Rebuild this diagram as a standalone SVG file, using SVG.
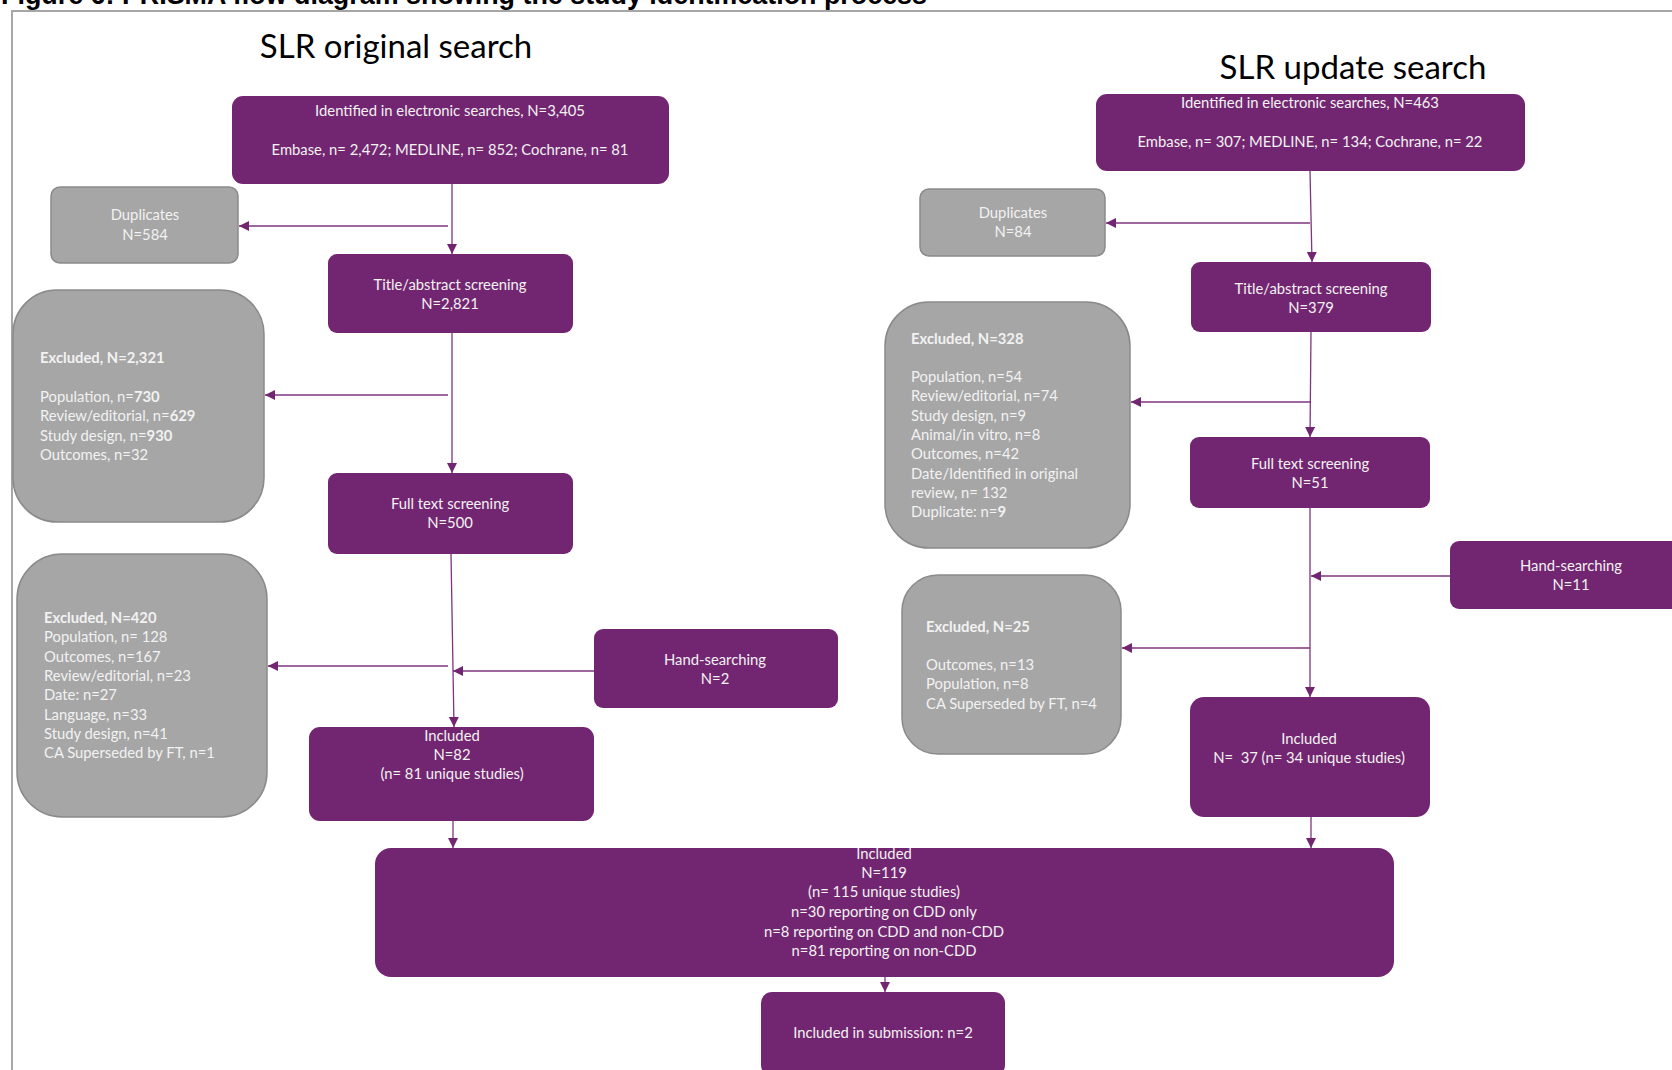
<svg xmlns="http://www.w3.org/2000/svg" width="1672" height="1070" viewBox="0 0 1672 1070">
<style>
.bg{fill:#ffffff}
.frame{fill:none;stroke:#A6A6A6;stroke-width:2}
.fig{font-family:"Liberation Sans",Arial,sans-serif;font-weight:bold;font-size:27px;fill:#000}
.head{font-family:Lato,"Open Sans",sans-serif;font-size:33px;fill:#000;text-anchor:middle}
.p{fill:#722671}
.g{fill:#A6A6A6;stroke:#8A8A8A;stroke-width:1.5}
.t{font-family:Lato,"Open Sans",sans-serif;font-size:14.8px;fill:#F2F2F2;text-anchor:middle;white-space:pre}
.tl{font-family:Lato,"Open Sans",sans-serif;font-size:14.8px;fill:#F2F2F2;white-space:pre}
.b{font-weight:bold}
.c{fill:none;stroke:#7F3581;stroke-width:1.3;marker-end:url(#ah)}
</style>
<defs>
<marker id="ah" markerUnits="userSpaceOnUse" markerWidth="11" markerHeight="11" refX="10" refY="5" orient="auto">
<path d="M0,0 L10,5 L0,10 z" fill="#722671"/>
</marker>
</defs>
<rect class="bg" x="0" y="0" width="1672" height="1070"/>
<text class="fig" x="1" y="4" textLength="926" lengthAdjust="spacingAndGlyphs">Figure 6: PRISMA flow diagram showing the study identification process</text>
<path class="frame" d="M12,1070 V11 H1672"/>
<text class="head" x="396" y="58">SLR original search</text>
<text class="head" x="1353" y="79">SLR update search</text>

<g id="connectors">
<path class="c" d="M452,184 V254"/>
<path class="c" d="M448,226 H239"/>
<path class="c" d="M452,333 V473"/>
<path class="c" d="M448,395 H265"/>
<path class="c" d="M451,554 L454,727"/>
<path class="c" d="M448,666 H268"/>
<path class="c" d="M594,671 H453"/>
<path class="c" d="M453,821 V848"/>
<path class="c" d="M1310,171 L1312,262"/>
<path class="c" d="M1310,223 H1106"/>
<path class="c" d="M1311,332 L1310,437"/>
<path class="c" d="M1310,402 H1131"/>
<path class="c" d="M1310,508 V697"/>
<path class="c" d="M1450,576 H1311"/>
<path class="c" d="M1310,648 H1122"/>
<path class="c" d="M1311,817 V848"/>
<path class="c" d="M885,977 V992"/>
</g>

<g id="orig-identified">
<rect class="p" x="232" y="96" width="437" height="88" rx="11"/>
<text class="t" x="450" y="116">Identified in electronic searches, N=3,405</text>
<text class="t" x="450" y="155">Embase, n= 2,472; MEDLINE, n= 852; Cochrane, n= 81</text>
</g>
<g id="orig-duplicates">
<rect class="g" x="51" y="187" width="187" height="76" rx="9"/>
<text class="t" x="145" y="220">Duplicates</text>
<text class="t" x="145" y="240">N=584</text>
</g>
<g id="orig-title-abstract">
<rect class="p" x="328" y="254" width="245" height="79" rx="9"/>
<text class="t" x="450" y="290">Title/abstract screening</text>
<text class="t" x="450" y="309">N=2,821</text>
</g>
<g id="orig-excluded-ta">
<rect class="g" x="13" y="290" width="251" height="232" rx="44"/>
<text class="tl b" x="40" y="363">Excluded, N=2,321</text>
<text class="tl" x="40" y="402">Population, n=<tspan class="b">730</tspan></text>
<text class="tl" x="40" y="421.3">Review/editorial, n=<tspan class="b">629</tspan></text>
<text class="tl" x="40" y="440.6">Study design, n=<tspan class="b">930</tspan></text>
<text class="tl" x="40" y="459.9">Outcomes, n=32</text>
</g>
<g id="orig-full-text">
<rect class="p" x="328" y="473" width="245" height="81" rx="9"/>
<text class="t" x="450" y="509">Full text screening</text>
<text class="t" x="450" y="528">N=500</text>
</g>
<g id="orig-excluded-ft">
<rect class="g" x="17" y="554" width="250" height="263" rx="45"/>
<text class="tl b" x="44" y="623">Excluded, N=420</text>
<text class="tl" x="44" y="642.3">Population, n= 128</text>
<text class="tl" x="44" y="661.6">Outcomes, n=167</text>
<text class="tl" x="44" y="680.9">Review/editorial, n=23</text>
<text class="tl" x="44" y="700.2">Date: n=27</text>
<text class="tl" x="44" y="719.5">Language, n=33</text>
<text class="tl" x="44" y="738.8">Study design, n=41</text>
<text class="tl" x="44" y="758.1">CA Superseded by FT, n=1</text>
</g>
<g id="orig-hand-searching">
<rect class="p" x="594" y="629" width="244" height="79" rx="9"/>
<text class="t" x="715" y="665">Hand-searching</text>
<text class="t" x="715" y="684">N=2</text>
</g>
<g id="orig-included">
<rect class="p" x="309" y="727" width="285" height="94" rx="11"/>
<text class="t" x="452" y="741">Included</text>
<text class="t" x="452" y="760">N=82</text>
<text class="t" x="452" y="779">(n= 81 unique studies)</text>
</g>

<g id="upd-identified">
<rect class="p" x="1096" y="94" width="429" height="77" rx="11"/>
<text class="t" x="1310" y="108">Identified in electronic searches, N=463</text>
<text class="t" x="1310" y="147">Embase, n= 307; MEDLINE, n= 134; Cochrane, n= 22</text>
</g>
<g id="upd-duplicates">
<rect class="g" x="920" y="189" width="185" height="67" rx="9"/>
<text class="t" x="1013" y="218">Duplicates</text>
<text class="t" x="1013" y="237">N=84</text>
</g>
<g id="upd-title-abstract">
<rect class="p" x="1191" y="262" width="240" height="70" rx="9"/>
<text class="t" x="1311" y="294">Title/abstract screening</text>
<text class="t" x="1311" y="313">N=379</text>
</g>
<g id="upd-excluded-ta">
<rect class="g" x="885" y="302" width="245" height="246" rx="44"/>
<text class="tl b" x="911" y="344">Excluded, N=328</text>
<text class="tl" x="911" y="382">Population, n=54</text>
<text class="tl" x="911" y="401.3">Review/editorial, n=74</text>
<text class="tl" x="911" y="420.6">Study design, n=9</text>
<text class="tl" x="911" y="439.9">Animal/in vitro, n=8</text>
<text class="tl" x="911" y="459.2">Outcomes, n=42</text>
<text class="tl" x="911" y="478.5">Date/Identified in original</text>
<text class="tl" x="911" y="497.8">review, n= 132</text>
<text class="tl" x="911" y="517.1">Duplicate: n=<tspan class="b">9</tspan></text>
</g>
<g id="upd-full-text">
<rect class="p" x="1190" y="437" width="240" height="71" rx="9"/>
<text class="t" x="1310" y="469">Full text screening</text>
<text class="t" x="1310" y="488">N=51</text>
</g>
<g id="upd-hand-searching">
<rect class="p" x="1450" y="541" width="240" height="68" rx="9"/>
<text class="t" x="1571" y="571">Hand-searching</text>
<text class="t" x="1571" y="590">N=11</text>
</g>
<g id="upd-excluded-ft">
<rect class="g" x="902" y="575" width="219" height="179" rx="36"/>
<text class="tl b" x="926" y="632">Excluded, N=25</text>
<text class="tl" x="926" y="670">Outcomes, n=13</text>
<text class="tl" x="926" y="689.3">Population, n=8</text>
<text class="tl" x="926" y="708.6">CA Superseded by FT, n=4</text>
</g>
<g id="upd-included">
<rect class="p" x="1190" y="697" width="240" height="120" rx="14"/>
<text class="t" x="1309" y="744">Included</text>
<text class="t" x="1309" y="763">N=  37 (n= 34 unique studies)</text>
</g>

<g id="included-total">
<rect class="p" x="375" y="848" width="1019" height="129" rx="16"/>
<text class="t" x="884" y="859">Included</text>
<text class="t" x="884" y="878">N=119</text>
<text class="t" x="884" y="897">(n= 115 unique studies)</text>
<text class="t" x="884" y="917">n=30 reporting on CDD only</text>
<text class="t" x="884" y="937">n=8 reporting on CDD and non-CDD</text>
<text class="t" x="884" y="956">n=81 reporting on non-CDD</text>
</g>
<g id="included-submission">
<rect class="p" x="761" y="992" width="244" height="84" rx="11"/>
<text class="t" x="883" y="1038">Included in submission: n=2</text>
</g>
</svg>
